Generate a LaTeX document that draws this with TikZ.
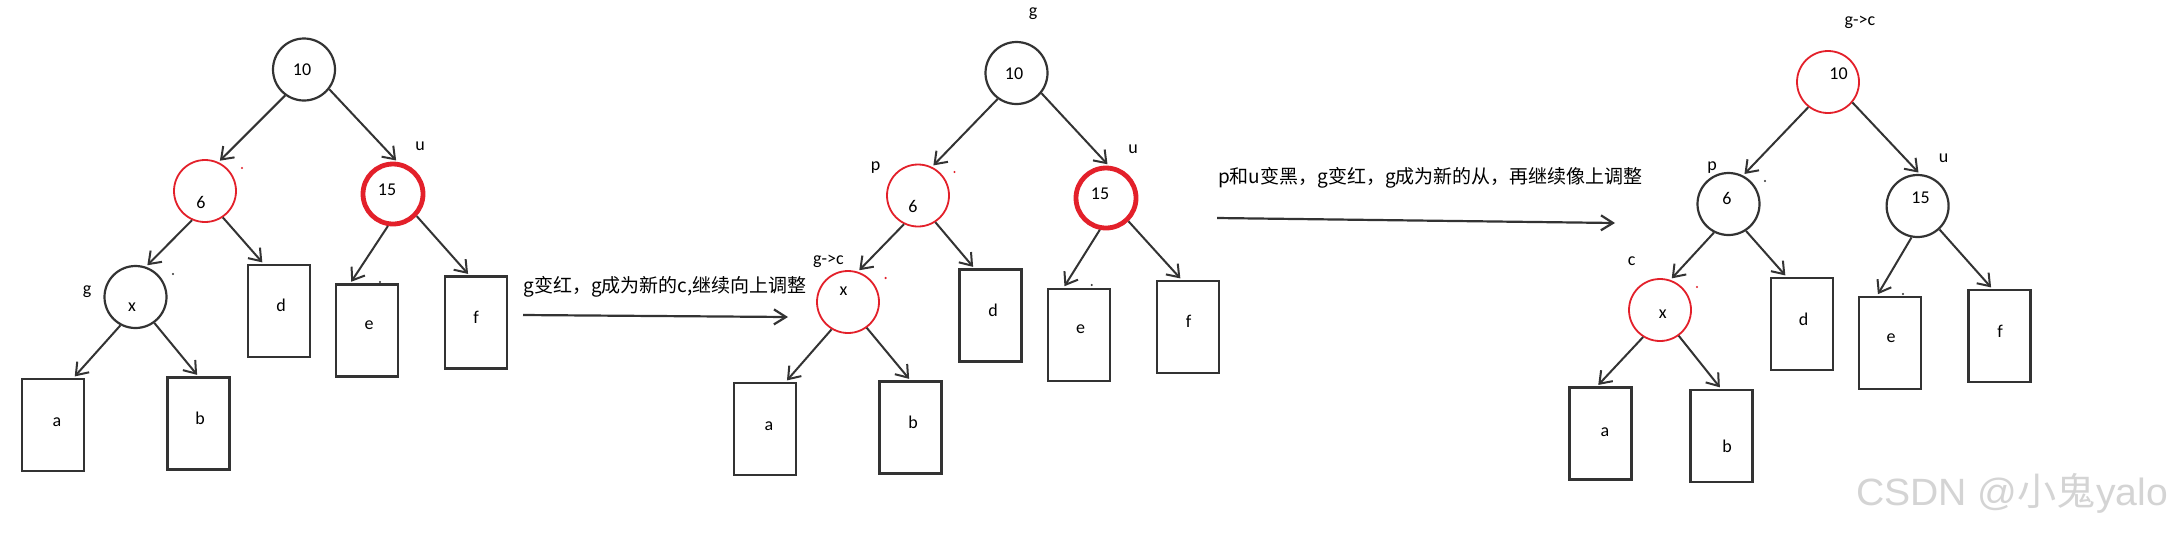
\documentclass[tikz,border=0pt]{standalone}
\usepackage{fontspec}
\setmainfont{Carlito}
\newfontfamily\cjk{Noto Sans CJK SC}
\newfontfamily\wmfont{Liberation Sans}
\usetikzlibrary{arrows.meta,calc}
\definecolor{linecol}{HTML}{333333}
\definecolor{redc}{HTML}{E3202A}
\definecolor{wmgray}{HTML}{D4D4D4}
\begin{document}
\begin{tikzpicture}[x=0.5pt,y=-0.5pt,
 bcirc/.style={circle,draw=linecol,line width=1.1pt,minimum size=31pt,inner sep=0pt},
 rcirc/.style={circle,draw=redc,line width=0.9pt,minimum size=31pt,inner sep=0pt},
 rthick/.style={circle,draw=redc,line width=2.4pt,minimum size=30pt,inner sep=0pt},
 leaf/.style={rectangle,draw=linecol,line width=1.1pt,minimum width=31pt,minimum height=46pt,inner sep=0pt},
 lbl/.style={inner sep=0pt,font=\fontsize{9}{10}\selectfont,text=black},
 note/.style={inner sep=0pt,font=\cjk\fontsize{9.5}{11}\selectfont,text=black},
 arr/.style={draw=linecol,line width=1pt,-{Straight Barb[length=5.5pt,width=8pt]},shorten >=1pt},
 bigarr/.style={draw=linecol,line width=1.1pt,-{Straight Barb[length=6pt,width=7.5pt]}},
 speck/.style={inner sep=0pt,minimum size=1.2pt,circle,fill=#1},
]
\fill[white] (0,0) rectangle (2174,532);
\useasboundingbox (0,0) rectangle (2174,532);

% ---------------- Tree 1 ----------------
\node[bcirc] (A10) at (304,69.5) {};
\node[rcirc] (A6) at (205,191) {};
\node[rthick] (A15) at (393,194) {};
\node[bcirc] (Ax) at (135.5,297) {};
\node[leaf] (Ad) at (278.75,311) {};
\node[leaf] (Ae) at (366.75,330.5) {};
\node[leaf] (Af) at (476,322.5) {};
\node[leaf] (Aa) at (53,425) {};
\node[leaf] (Ab) at (198.5,423.5) {};
\node[lbl] (A10t) at (302,70) {10};
\node[lbl] (A6t) at (201,202) {6};
\node[lbl] (A15t) at (387,190) {15};
\node[lbl] (Axt) at (132,307) {x};
\node[lbl] (Au) at (420,146) {u};
\node[lbl] (Ag) at (87,292) {g};
\node[lbl] (Adt) at (281,305) {d};
\node[lbl] (Aet) at (369,325) {e};
\node[lbl] (Aft) at (476,317) {f};
\node[lbl] (Aat) at (57,422) {a};
\node[lbl] (Abt) at (200,418) {b};
\draw[arr] (A10.-126) -- (A6.65);
\draw[arr] (A10.-38) -- (A15.82);
\draw[arr] (A6.-114) -- (Ax.71);
\draw[arr] (A6.-56) -- ($(Ad.north west)+(17,0)$);
\draw[arr] (A15.-99) -- ($(Ae.north west)+(15.5,0)$);
\draw[arr] (A15.-43) -- ($(Af.north west)+(25.5,0)$);
\draw[arr] (Ax.-118) -- ($(Aa.north west)+(52.5,0)$);
\draw[arr] (Ax.-54) -- ($(Ab.north west)+(32,0)$);
\node[speck=redc] (As1) at (242,168) {};
\node[speck=linecol] (As2) at (173,274) {};
\node[speck=linecol] (As3) at (380,282) {};

% ---------------- Arrow 1 ----------------
\coordinate (S1) at (523,315);
\coordinate (E1) at (788,317);
\draw[bigarr] (S1) -- (E1);
\node[note] (N1) at (665,287) {g变红，g成为新的c,继续向上调整};

% ---------------- Tree 2 ----------------
\node[bcirc] (B10) at (1016.5,73) {};
\node[rcirc] (B6) at (918,195.5) {};
\node[rthick] (B15) at (1106,198) {};
\node[rcirc] (Bx) at (848,302) {};
\node[leaf] (Bd) at (990.5,315.5) {};
\node[leaf] (Be) at (1079,335) {};
\node[leaf] (Bf) at (1188.3,327) {};
\node[leaf] (Ba) at (765.25,429) {};
\node[leaf] (Bb) at (910.5,427.5) {};
\node[lbl] (Bg) at (1033,14) {g};
\node[lbl] (B10t) at (1014,74) {10};
\node[lbl] (Bp) at (875.5,168) {p};
\node[lbl] (B6t) at (913,206) {6};
\node[lbl] (B15t) at (1100,194) {15};
\node[lbl] (Bu) at (1133,149) {u};
\node[lbl] (Bgc) at (828.5,261) {g->c};
\node[lbl] (Bxt) at (843.5,291) {x};
\node[lbl] (Bdt) at (993,310) {d};
\node[lbl] (Bet) at (1080.5,329) {e};
\node[lbl] (Bft) at (1188.6,321) {f};
\node[lbl] (Bat) at (769,426) {a};
\node[lbl] (Bbt) at (913,422) {b};
\draw[arr] (B10.-126) -- (B6.64);
\draw[arr] (B10.-39) -- (B15.85);
\draw[arr] (B6.-116) -- (Bx.72);
\draw[arr] (B6.-57) -- ($(Bd.north west)+(16,0)$);
\draw[arr] (B15.-101) -- ($(Be.north west)+(16.5,0)$);
\draw[arr] (B15.-46) -- ($(Bf.north west)+(25.5,0)$);
\draw[arr] (Bx.-121) -- ($(Ba.north west)+(52.5,0)$);
\draw[arr] (Bx.-54) -- ($(Bb.north west)+(32,0)$);
\node[speck=redc] (Bs1) at (954.5,172) {};
\node[speck=redc] (Bs2) at (885.6,278) {};
\node[speck=linecol] (Bs3) at (1091.7,285) {};

% ---------------- Arrow 2 ----------------
\coordinate (S2) at (1217,218);
\coordinate (E2) at (1615,223);
\draw[bigarr] (S2) -- (E2);
\node[note] (N2) at (1430.5,178) {p和u变黑，g变红，g成为新的从，再继续像上调整};

% ---------------- Tree 3 ----------------
\node[rcirc] (C10) at (1828,82) {};
\node[bcirc] (C6) at (1728.5,204) {};
\node[bcirc] (C15) at (1917.6,206) {};
\node[rcirc] (Cx) at (1660,310) {};
\node[leaf] (Cd) at (1801.75,324) {};
\node[leaf] (Ce) at (1890,343) {};
\node[leaf] (Cf) at (1999.5,336) {};
\node[leaf] (Ca) at (1600.5,433.5) {};
\node[leaf] (Cb) at (1721.5,436) {};
\node[lbl] (Cgc) at (1860,22) {g->c};
\node[lbl] (C10t) at (1838.5,74) {10};
\node[lbl] (Cp) at (1712,168) {p};
\node[lbl] (C6t) at (1727,198) {6};
\node[lbl] (C15t) at (1920.5,198) {15};
\node[lbl] (Cu) at (1943.5,158) {u};
\node[lbl] (Cc) at (1631.7,261) {c};
\node[lbl] (Cxt) at (1662.7,314) {x};
\node[lbl] (Cdt) at (1803.7,319) {d};
\node[lbl] (Cet) at (1891,338) {e};
\node[lbl] (Cft) at (2000,331) {f};
\node[lbl] (Cat) at (1605,432) {a};
\node[lbl] (Cbt) at (1727,446) {b};
\draw[arr] (C10.-128) -- (C6.63);
\draw[arr] (C10.-40) -- (C15.86);
\draw[arr] (C6.-117) -- (Cx.71);
\draw[arr] (C6.-57) -- ($(Cd.north west)+(17,0)$);
\draw[arr] (C15.-101) -- ($(Ce.north west)+(19,0)$);
\draw[arr] (C15.-47) -- ($(Cf.north west)+(25,0)$);
\draw[arr] (Cx.-122) -- ($(Ca.north west)+(28.5,0)$);
\draw[arr] (Cx.-54) -- ($(Cb.north west)+(31.7,0)$);
\node[speck=linecol] (Cs1) at (1765,181) {};
\node[speck=redc] (Cs2) at (1697,287) {};
\node[speck=linecol] (Cs3) at (1903,294) {};

% ---------------- Watermark ----------------
\node[inner sep=0pt,text=wmgray,font=\wmfont\fontsize{19}{21}\selectfont,xscale=1.03] (WM) at (2012,493) {CSDN @{\cjk 小鬼}yalo};
\end{tikzpicture}
\end{document}
